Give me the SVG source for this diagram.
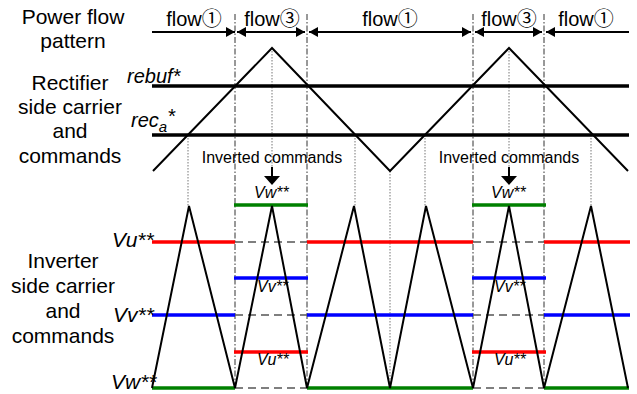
<svg xmlns="http://www.w3.org/2000/svg" width="637" height="394" viewBox="0 0 637 394">
<style>
.lbl{font-family:"Liberation Sans",Arial,sans-serif;font-size:21px;fill:#000;text-anchor:middle}
.flow{font-family:"Liberation Sans","Noto Sans CJK JP",sans-serif;font-size:20px;fill:#000;text-anchor:middle}
.it{font-family:"Liberation Sans",Arial,sans-serif;font-style:italic;fill:#000}
.sm{font-family:"Liberation Sans",Arial,sans-serif;font-size:16px;fill:#000;text-anchor:middle}
.dd{stroke:#333;stroke-width:1;stroke-dasharray:6 2 1.5 2;fill:none}
.dot{stroke:#777;stroke-width:1;stroke-dasharray:1.5 1.5;fill:none}
.dash{stroke:#555;stroke-width:1.3;stroke-dasharray:8 5;fill:none}
.car{stroke:#000;stroke-width:2;fill:none;stroke-linejoin:miter}
.ref{stroke:#000;stroke-width:3.5;fill:none}
.r{stroke:#ff0000;stroke-width:3.5}
.b{stroke:#0000ff;stroke-width:3.5}
.g{stroke:#008000;stroke-width:3.5}
</style>
<defs>
<marker id="ah" markerWidth="9" markerHeight="10" refX="9" refY="5" orient="auto" markerUnits="userSpaceOnUse">
<path d="M0,0 L9,5 L0,10 Z" fill="#000"/>
</marker>
</defs>

<g id="labels">
<text class="lbl" x="73" y="24">Power flow</text>
<text class="lbl" x="73" y="48">pattern</text>
<text class="lbl" x="70" y="90">Rectifier</text>
<text class="lbl" x="70" y="114">side carrier</text>
<text class="lbl" x="70" y="138">and</text>
<text class="lbl" x="70" y="163">commands</text>
<text class="lbl" x="63" y="268">Inverter</text>
<text class="lbl" x="63" y="293">side carrier</text>
<text class="lbl" x="63" y="318">and</text>
<text class="lbl" x="63" y="343">commands</text>
</g>

<g id="guides">
<line class="dd" x1="235" y1="14" x2="235" y2="388"/>
<line class="dd" x1="307" y1="14" x2="307" y2="388"/>
<line class="dd" x1="473" y1="14" x2="473" y2="388"/>
<line class="dd" x1="544" y1="14" x2="544" y2="388"/>
<line class="dot" x1="188" y1="135" x2="188" y2="206"/>
<line class="dot" x1="272" y1="48" x2="272" y2="168"/>
<line class="dot" x1="355" y1="135" x2="355" y2="206"/>
<line class="dot" x1="390" y1="171" x2="390" y2="388"/>
<line class="dot" x1="425" y1="135" x2="425" y2="206"/>
<line class="dot" x1="509" y1="48" x2="509" y2="168"/>
<line class="dot" x1="591" y1="135" x2="591" y2="206"/>
</g>

<g id="flow-pattern">
<line x1="152" y1="32" x2="235" y2="32" stroke="#000" stroke-width="2" marker-end="url(#ah)"/>
<line x1="272" y1="32" x2="237" y2="32" stroke="#000" stroke-width="2" marker-end="url(#ah)"/>
<line x1="272" y1="32" x2="305" y2="32" stroke="#000" stroke-width="2" marker-end="url(#ah)"/>
<line x1="390" y1="32" x2="309" y2="32" stroke="#000" stroke-width="2" marker-end="url(#ah)"/>
<line x1="390" y1="32" x2="471" y2="32" stroke="#000" stroke-width="2" marker-end="url(#ah)"/>
<line x1="509" y1="32" x2="475" y2="32" stroke="#000" stroke-width="2" marker-end="url(#ah)"/>
<line x1="509" y1="32" x2="542" y2="32" stroke="#000" stroke-width="2" marker-end="url(#ah)"/>
<line x1="629" y1="32" x2="546" y2="32" stroke="#000" stroke-width="2" marker-end="url(#ah)"/>
<text class="flow" x="194" y="26">flow①</text>
<text class="flow" x="272" y="26">flow③</text>
<text class="flow" x="390" y="26">flow①</text>
<text class="flow" x="509" y="26">flow③</text>
<text class="flow" x="586" y="26">flow①</text>
</g>

<g id="rectifier">
<line class="ref" x1="152" y1="86" x2="629" y2="86"/>
<line class="ref" x1="152" y1="135" x2="629" y2="135"/>
<polyline class="car" points="153,171 272,48 390,171 509,48 628,171"/>
<text class="it" x="127" y="83" font-size="20">rebuf*</text>
<text class="it" x="131" y="127" font-size="20">rec<tspan font-size="15" dy="5">a</tspan><tspan font-size="20" dy="-9">*</tspan></text>
</g>

<g id="inverted1">
<text class="sm" x="272" y="163">Inverted commands</text>
<line x1="272" y1="167" x2="272" y2="178" stroke="#000" stroke-width="2"/>
<path d="M264,176 L280,176 L272,185 Z" fill="#000"/>
</g>
<g id="inverted2">
<text class="sm" x="509" y="163">Inverted commands</text>
<line x1="509" y1="167" x2="509" y2="178" stroke="#000" stroke-width="2"/>
<path d="M501,176 L517,176 L509,185 Z" fill="#000"/>
</g>

<g id="inverter-commands">
<line class="r" x1="152" y1="242" x2="235" y2="242"/>
<line class="dash" x1="235" y1="242" x2="307" y2="242"/>
<line class="r" x1="307" y1="242" x2="473" y2="242"/>
<line class="dash" x1="473" y1="242" x2="544" y2="242"/>
<line class="r" x1="544" y1="242" x2="630" y2="242"/>

<line class="b" x1="152" y1="315" x2="235" y2="315"/>
<line class="dash" x1="235" y1="315" x2="307" y2="315"/>
<line class="b" x1="307" y1="315" x2="473" y2="315"/>
<line class="dash" x1="473" y1="315" x2="544" y2="315"/>
<line class="b" x1="544" y1="315" x2="630" y2="315"/>

<line class="g" x1="152" y1="388" x2="235" y2="388"/>
<line class="dash" x1="235" y1="388" x2="307" y2="388"/>
<line class="g" x1="307" y1="388" x2="473" y2="388"/>
<line class="dash" x1="473" y1="388" x2="544" y2="388"/>
<line class="g" x1="544" y1="388" x2="629" y2="388"/>

<line class="g" x1="234" y1="205" x2="308" y2="205"/>
<line class="b" x1="234" y1="278" x2="308" y2="278"/>
<line class="r" x1="234" y1="352" x2="308" y2="352"/>
<line class="g" x1="472" y1="205" x2="546" y2="205"/>
<line class="b" x1="472" y1="278" x2="546" y2="278"/>
<line class="r" x1="472" y1="352" x2="546" y2="352"/>

<text class="it" x="112" y="247" font-size="21">Vu**</text>
<text class="it" x="113" y="322" font-size="21">Vv**</text>
<text class="it" x="111" y="389" font-size="21">Vw**</text>

<text class="it" x="254" y="198" font-size="16">Vw**</text>
<text class="it" x="257" y="292" font-size="16">Vv**</text>
<text class="it" x="257" y="365" font-size="16">Vu**</text>
<text class="it" x="491" y="198" font-size="16">Vw**</text>
<text class="it" x="494" y="292" font-size="16">Vv**</text>
<text class="it" x="494" y="365" font-size="16">Vu**</text>
</g>

<g id="inverter-carrier">
<polyline class="car" points="152,388 189,206 235,388 272,206 307,388 354,206 390,388 426,206 473,388 509,206 544,388 591,206 628,388"/>
</g>
</svg>
